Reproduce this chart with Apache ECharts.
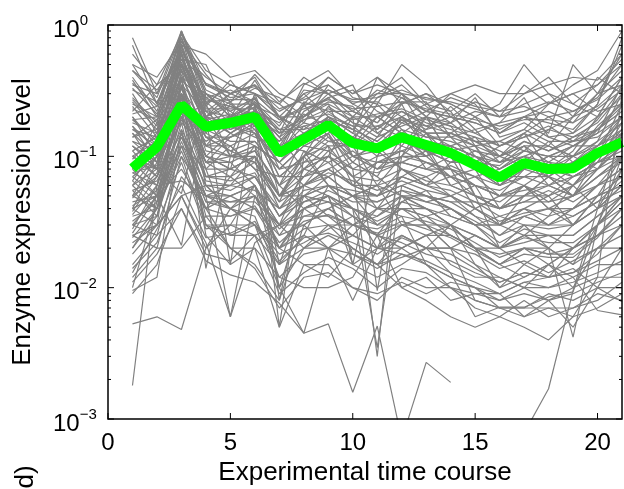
<!DOCTYPE html>
<html>
<head>
<meta charset="utf-8">
<script src="https://cdn.jsdelivr.net/npm/echarts@6/dist/echarts.min.js"></script>
<style>
  html, body { margin: 0; padding: 0; background: #fff; }
  #chart { width: 624px; height: 489px; }
</style>
</head>
<body>
<div id="chart"></div>
<script>
// time points 1..21
var timePoints = [1, 2, 3, 4, 5, 6, 7, 8, 9, 10, 11, 12, 13, 14, 15, 16, 17, 18, 19, 20, 21]

// mean expression (green)
var meanLevel = [0.081, 0.118, 0.246, 0.168, 0.18, 0.2, 0.106, 0.135, 0.173, 0.126, 0.115,
  0.14, 0.122, 0.106, 0.086, 0.069, 0.089, 0.08, 0.081, 0.106, 0.128]

// single enzymes (grey), null = zero level, not drawn on the log axis
var enzymeLevels = [
  [0.8, 0.3, 0.9, 0.35, 0.3, 0.35, 0.2, 0.3, 0.35, 0.25, 0.3, 0.4, 0.25, 0.22, 0.3, 0.2, 0.25, 0.3, 0.25, 0.35, 0.5],
  [0.6, 0.35, 0.85, 0.45, 0.35, 0.3, 0.25, 0.4, 0.3, 0.2, 0.2, 0.25, 0.3, 0.25, 0.2, 0.25, 0.5, 0.3, 0.2, 0.3, 0.6],
  [0.5, 0.25, 0.7, 0.6, 0.4, 0.45, 0.3, 0.25, 0.4, 0.3, 0.4, 0.3, 0.2, 0.3, 0.25, 0.15, 0.2, 0.25, 0.35, 0.45, 0.9],
  [0.4, 0.22, 0.8, 0.3, 0.25, 0.25, 0.15, 0.35, 0.45, 0.28, 0.25, 0.5, 0.35, 0.2, 0.15, 0.18, 0.2, 0.15, 0.5, 0.3, 0.35],
  [0.35, 0.3, 0.6, 0.4, 0.3, 0.4, 0.2, 0.2, 0.3, 0.35, 0.15, 0.2, 0.25, 0.3, 0.35, 0.3, 0.3, 0.4, 0.25, 0.2, 0.4],
  [0.3, 0.15, 0.65, 0.25, 0.35, 0.3, 0.1, 0.25, 0.25, 0.2, 0.3, 0.3, 0.15, 0.15, 0.2, 0.12, 0.15, 0.2, 0.15, 0.25, 0.7],
  [0.25, 0.2, 0.9, 0.3, 0.2, 0.22, 0.18, 0.3, 0.2, 0.15, 0.4, 0.25, 0.3, 0.22, 0.12, 0.1, 0.15, 0.12, 0.2, 0.4, 0.3],
  [0.22, 0.35, 0.5, 0.2, 0.3, 0.35, 0.25, 0.18, 0.35, 0.25, 0.2, 0.15, 0.2, 0.18, 0.22, 0.2, 0.35, 0.25, 0.3, 0.22, 0.25],
  [0.2, 0.12, 0.4, 0.18, 0.2, 0.25, 0.12, 0.15, 0.2, 0.15, 0.12, 0.18, 0.15, 0.12, 0.1, 0.08, 0.1, 0.09, 0.12, 0.15, 0.2],
  [0.15, 0.1, 0.35, 0.22, 0.15, 0.2, 0.08, 0.12, 0.15, 0.2, 0.15, 0.12, 0.1, 0.15, 0.12, 0.06, 0.08, 0.1, 0.08, 0.12, 0.15],
  [0.18, 0.15, 0.3, 0.15, 0.25, 0.18, 0.1, 0.2, 0.25, 0.1, 0.08, 0.12, 0.2, 0.1, 0.08, 0.1, 0.12, 0.07, 0.1, 0.08, 0.12],
  [0.12, 0.08, 0.45, 0.12, 0.12, 0.15, 0.06, 0.1, 0.12, 0.12, 0.2, 0.15, 0.08, 0.08, 0.06, 0.05, 0.06, 0.08, 0.06, 0.1, 0.25],
  [0.1, 0.13, 0.55, 0.2, 0.18, 0.22, 0.14, 0.08, 0.1, 0.08, 0.1, 0.2, 0.12, 0.06, 0.07, 0.08, 0.1, 0.06, 0.05, 0.07, 0.1],
  [0.09, 0.06, 0.25, 0.1, 0.15, 0.12, 0.09, 0.15, 0.18, 0.12, 0.06, 0.1, 0.1, 0.12, 0.05, 0.04, 0.05, 0.05, 0.07, 0.09, 0.18],
  [0.08, 0.18, 0.2, 0.25, 0.1, 0.1, 0.05, 0.06, 0.08, 0.1, 0.12, 0.08, 0.06, 0.09, 0.1, 0.07, 0.06, 0.04, 0.04, 0.06, 0.08],
  [0.07, 0.1, 0.3, 0.08, 0.08, 0.3, 0.2, 0.12, 0.15, 0.06, 0.09, 0.1, 0.15, 0.08, 0.04, 0.05, 0.08, 0.1, 0.12, 0.15, 0.35],
  [0.06, 0.08, 0.6, 0.15, 0.12, 0.08, 0.07, 0.1, 0.06, 0.05, 0.05, 0.06, 0.07, 0.05, 0.06, 0.03, 0.04, 0.05, 0.03, 0.05, 0.06],
  [0.05, 0.07, 0.15, 0.06, 0.06, 0.1, 0.04, 0.05, 0.07, 0.09, 0.07, 0.05, 0.05, 0.04, 0.03, 0.035, 0.03, 0.03, 0.04, 0.05, 0.1],
  [0.045, 0.05, 0.35, 0.1, 0.09, 0.06, 0.03, 0.08, 0.12, 0.07, 0.04, 0.07, 0.09, 0.07, 0.05, 0.02, 0.025, 0.035, 0.06, 0.04, 0.05],
  [0.04, 0.09, 0.18, 0.12, 0.2, 0.15, 0.06, 0.04, 0.05, 0.04, 0.03, 0.04, 0.04, 0.03, 0.04, 0.03, 0.05, 0.07, 0.05, 0.08, 0.15],
  [0.035, 0.04, 0.1, 0.05, 0.05, 0.04, 0.025, 0.03, 0.04, 0.05, 0.06, 0.03, 0.035, 0.025, 0.02, 0.015, 0.02, 0.02, 0.015, 0.03, 0.04],
  [0.03, 0.05, 0.08, 0.04, 0.07, 0.05, 0.02, 0.04, 0.03, 0.03, 0.035, 0.05, 0.03, 0.02, 0.025, 0.02, 0.015, 0.012, 0.02, 0.025, 0.03],
  [0.025, 0.03, 0.05, 0.06, 0.04, 0.03, 0.015, 0.025, 0.06, 0.04, 0.02, 0.025, 0.02, 0.03, 0.015, 0.01, 0.012, 0.015, 0.01, 0.02, 0.02],
  [0.02, 0.035, 0.22, 0.03, 0.03, 0.06, 0.01, 0.02, 0.025, 0.02, 0.015, 0.02, 0.025, 0.015, 0.012, 0.012, 0.01, 0.01, 0.012, 0.015, 0.015],
  [0.015, 0.025, 0.12, 0.08, 0.025, 0.025, 0.03, 0.05, 0.035, 0.025, 0.04, 0.035, 0.015, 0.012, 0.01, 0.008, 0.009, 0.008, 0.01, 0.012, 0.012],
  [0.012, 0.02, 0.02, 0.035, 0.02, 0.015, 0.008, 0.03, 0.02, 0.015, 0.012, 0.015, 0.02, 0.02, 0.008, 0.007, 0.007, 0.009, 0.008, 0.01, 0.01],
  [0.01, 0.045, 0.3, 0.025, 0.015, 0.02, 0.005, 0.015, 0.015, 0.01, 0.008, 0.012, 0.01, 0.01, 0.007, 0.006, 0.008, 0.006, 0.007, 0.009, 0.008],
  [0.009, 0.015, 0.05, 0.02, 0.04, 0.035, 0.012, 0.01, 0.01, 0.012, 0.025, 0.01, 0.012, 0.008, 0.009, 0.009, 0.006, 0.007, 0.006, 0.007, 0.009],
  [0.28, 0.18, 0.75, 0.35, 0.28, 0.3, 0.22, 0.28, 0.4, 0.3, 0.35, 0.3, 0.22, 0.2, 0.18, 0.15, 0.2, 0.22, 0.18, 0.3, 0.45],
  [0.24, 0.14, 0.5, 0.28, 0.22, 0.28, 0.12, 0.22, 0.28, 0.18, 0.16, 0.22, 0.18, 0.16, 0.14, 0.12, 0.14, 0.16, 0.14, 0.18, 0.3],
  [0.19, 0.2, 0.45, 0.22, 0.3, 0.25, 0.16, 0.16, 0.22, 0.22, 0.18, 0.28, 0.2, 0.14, 0.16, 0.1, 0.12, 0.12, 0.1, 0.16, 0.22],
  [0.16, 0.12, 0.7, 0.18, 0.16, 0.2, 0.13, 0.18, 0.16, 0.13, 0.25, 0.16, 0.14, 0.13, 0.11, 0.09, 0.13, 0.11, 0.13, 0.14, 0.2],
  [0.14, 0.16, 0.4, 0.3, 0.22, 0.16, 0.09, 0.13, 0.2, 0.17, 0.12, 0.13, 0.16, 0.18, 0.13, 0.11, 0.09, 0.13, 0.09, 0.11, 0.14],
  [0.13, 0.09, 0.28, 0.14, 0.14, 0.18, 0.11, 0.25, 0.14, 0.09, 0.14, 0.25, 0.11, 0.09, 0.09, 0.12, 0.15, 0.08, 0.11, 0.2, 0.4],
  [0.11, 0.14, 0.5, 0.16, 0.13, 0.13, 0.08, 0.09, 0.13, 0.14, 0.1, 0.11, 0.13, 0.11, 0.12, 0.07, 0.07, 0.09, 0.07, 0.09, 0.11],
  [0.1, 0.07, 0.22, 0.13, 0.17, 0.14, 0.12, 0.11, 0.09, 0.11, 0.08, 0.09, 0.08, 0.1, 0.08, 0.06, 0.09, 0.07, 0.09, 0.13, 0.3],
  [0.085, 0.11, 0.38, 0.11, 0.1, 0.11, 0.06, 0.14, 0.16, 0.09, 0.07, 0.14, 0.1, 0.07, 0.06, 0.055, 0.07, 0.06, 0.08, 0.1, 0.16],
  [0.075, 0.085, 0.26, 0.09, 0.14, 0.16, 0.07, 0.07, 0.11, 0.13, 0.11, 0.08, 0.07, 0.085, 0.07, 0.05, 0.05, 0.07, 0.05, 0.07, 0.09],
  [0.065, 0.12, 0.42, 0.14, 0.11, 0.09, 0.05, 0.09, 0.1, 0.07, 0.09, 0.09, 0.11, 0.06, 0.05, 0.045, 0.06, 0.045, 0.06, 0.08, 0.12],
  [0.055, 0.065, 0.16, 0.07, 0.07, 0.12, 0.09, 0.06, 0.08, 0.06, 0.06, 0.07, 0.06, 0.07, 0.08, 0.04, 0.045, 0.055, 0.045, 0.06, 0.07],
  [0.05, 0.1, 0.24, 0.08, 0.12, 0.08, 0.045, 0.11, 0.06, 0.055, 0.05, 0.06, 0.05, 0.045, 0.045, 0.04, 0.06, 0.04, 0.05, 0.1, 0.2],
  [0.042, 0.055, 0.14, 0.06, 0.055, 0.07, 0.035, 0.045, 0.055, 0.045, 0.045, 0.055, 0.045, 0.05, 0.035, 0.025, 0.035, 0.03, 0.035, 0.045, 0.055],
  [0.038, 0.07, 0.3, 0.07, 0.08, 0.1, 0.05, 0.05, 0.045, 0.035, 0.025, 0.045, 0.055, 0.035, 0.03, 0.03, 0.025, 0.025, 0.025, 0.035, 0.05],
  [0.032, 0.045, 0.12, 0.045, 0.045, 0.045, 0.03, 0.035, 0.035, 0.03, 0.04, 0.04, 0.035, 0.04, 0.03, 0.02, 0.022, 0.025, 0.02, 0.03, 0.045],
  [0.028, 0.06, 0.065, 0.05, 0.06, 0.055, 0.04, 0.06, 0.07, 0.05, 0.03, 0.03, 0.025, 0.025, 0.02, 0.018, 0.02, 0.018, 0.018, 0.025, 0.035],
  [0.024, 0.04, 0.18, 0.035, 0.035, 0.04, 0.02, 0.028, 0.03, 0.025, 0.02, 0.03, 0.03, 0.02, 0.018, 0.014, 0.016, 0.013, 0.016, 0.02, 0.025],
  [0.018, 0.03, 0.09, 0.028, 0.03, 0.03, 0.018, 0.022, 0.028, 0.035, 0.025, 0.022, 0.018, 0.016, 0.013, 0.011, 0.013, 0.012, 0.013, 0.016, 0.02],
  [0.014, 0.022, 0.07, 0.04, 0.02, 0.02, 0.012, 0.018, 0.02, 0.018, 0.014, 0.018, 0.016, 0.013, 0.011, 0.009, 0.011, 0.01, 0.011, 0.013, 0.016],
  [0.011, 0.018, 0.04, 0.018, 0.016, 0.025, 0.009, 0.013, 0.017, 0.014, 0.01, 0.014, 0.013, 0.01, 0.009, 0.008, 0.01, 0.008, 0.009, 0.011, 0.013],
  [0.0095, 0.012, 0.16, 0.03, 0.02, 0.014, 0.007, 0.012, 0.013, 0.01, 0.009, 0.011, 0.009, 0.011, 0.01, 0.007, 0.007, 0.007, 0.007, 0.008, 0.011],
  [0.7, 0.25, 0.8, 0.28, 0.32, 0.26, 0.17, 0.32, 0.3, 0.22, 0.18, 0.3, 0.28, 0.25, 0.2, 0.16, 0.2, 0.18, 0.16, 0.25, 0.8],
  [0.45, 0.28, 0.85, 0.32, 0.26, 0.33, 0.28, 0.2, 0.28, 0.32, 0.22, 0.18, 0.22, 0.28, 0.24, 0.22, 0.24, 0.2, 0.22, 0.28, 0.5],
  [0.38, 0.2, 0.65, 0.24, 0.38, 0.22, 0.14, 0.26, 0.22, 0.16, 0.28, 0.35, 0.24, 0.18, 0.28, 0.14, 0.16, 0.25, 0.3, 0.35, 0.55],
  [0.32, 0.26, 0.55, 0.5, 0.2, 0.38, 0.19, 0.24, 0.32, 0.26, 0.26, 0.2, 0.16, 0.24, 0.16, 0.18, 0.28, 0.14, 0.12, 0.16, 0.26],
  [0.27, 0.17, 0.6, 0.2, 0.24, 0.2, 0.15, 0.2, 0.26, 0.24, 0.16, 0.26, 0.26, 0.14, 0.12, 0.13, 0.11, 0.16, 0.2, 0.24, 0.35],
  [0.21, 0.24, 0.38, 0.26, 0.18, 0.24, 0.2, 0.16, 0.18, 0.14, 0.2, 0.22, 0.17, 0.2, 0.18, 0.15, 0.18, 0.14, 0.15, 0.2, 0.28],
  [0.17, 0.11, 0.8, 0.2, 0.26, 0.17, 0.1, 0.14, 0.24, 0.18, 0.14, 0.17, 0.2, 0.17, 0.1, 0.08, 0.11, 0.1, 0.12, 0.12, 0.18],
  [0.14, 0.19, 0.33, 0.17, 0.19, 0.26, 0.15, 0.17, 0.13, 0.12, 0.17, 0.14, 0.12, 0.12, 0.14, 0.09, 0.1, 0.12, 0.1, 0.17, 0.25],
  [0.12, 0.09, 0.9, 0.24, 0.16, 0.19, 0.1, 0.13, 0.19, 0.16, 0.13, 0.19, 0.14, 0.14, 0.09, 0.085, 0.12, 0.09, 0.085, 0.11, 0.13],
  [0.095, 0.15, 0.48, 0.19, 0.21, 0.17, 0.13, 0.21, 0.17, 0.1, 0.11, 0.16, 0.11, 0.09, 0.11, 0.1, 0.085, 0.08, 0.07, 0.09, 0.1],
  [0.06, 0.1, 0.5, 0.2, 0.015, 0.25, 0.05, 0.1, 0.2, 0.1, 0.08, 0.1, 0.09, 0.08, 0.06, 0.05, 0.06, 0.05, 0.06, 0.1, 0.15],
  [0.15, 0.08, 0.4, 0.014, 0.1, 0.3, 0.2, 0.15, 0.12, 0.015, 0.1, 0.2, 0.15, 0.1, 0.08, 0.06, 0.08, 0.07, 0.05, 0.08, 0.12],
  [0.2, 0.1, 0.6, 0.2, 0.15, 0.2, 0.005, 0.1, 0.15, 0.08, 0.003, 0.15, 0.1, 0.12, 0.1, 0.08, 0.1, 0.08, 0.1, 0.12, 0.2],
  [0.12, 0.08, 0.052, 0.3, 0.2, 0.25, 0.008, 0.06, 0.1, 0.2, 0.0095, 0.1, 0.2, 0.1, 0.05, 0.04, 0.05, 0.06, 0.07, 0.08, 0.1],
  [0.08, 0.05, 0.021, 0.2, 0.1, 0.12, 0.015, 0.05, 0.06, 0.04, 0.0035, 0.06, 0.05, 0.04, 0.03, 0.03, 0.04, 0.03, 0.04, 0.06, 0.1],
  [0.05, 0.04, 0.3, 0.1, 0.08, 0.1, 0.01, 0.04, 0.05, 0.015, 0.02, 0.05, 0.04, 0.03, 0.02, 0.01, 0.015, 0.02, 0.015, 0.02, 0.03],
  [0.03, 0.035, 0.15, 0.05, 0.006, 0.05, 0.03, 0.02, 0.02, 0.008, 0.02, 0.02, 0.015, 0.01, 0.008, 0.007, 0.006, 0.008, 0.005, 0.01, 0.02],
  [0.022, 0.03, 0.4, 0.06, 0.04, 0.06, 0.02, 0.015, 0.012, 0.02, 0.015, 0.01, 0.008, 0.006, 0.005, 0.006, 0.005, 0.004, 0.006, 0.012, 0.3],
  [0.0053, 0.006, 0.0048, 0.02, 0.03, 0.025, 0.015, 0.02, 0.03, 0.02, 0.015, 0.025, 0.02, 0.02, 0.015, 0.012, 0.01, 0.015, 0.02, 0.03, 0.05],
  [0.0018, 0.06, 0.2, 0.1, 0.08, 0.1, 0.05, 0.07, 0.09, 0.06, 0.05, 0.08, 0.06, 0.05, 0.04, 0.03, 0.035, 0.04, 0.03, 0.05, 0.06],
  [0.04, 0.03, 0.05, 0.022, 0.006, 0.022, 0.03, 0.04, 0.05, 0.035, 0.03, 0.04, 0.03, 0.03, 0.02, 0.02, 0.025, 0.02, 0.03, 0.04, 0.08],
  [0.03, 0.025, 0.04, 0.016, 0.0125, 0.011, 0.0076, 0.0045, 0.0053, 0.0016, 0.0051, 0.0007, 0.0027, 0.0019, null, null, 0.00078, 0.0017, 0.0095, 0.04, 0.15],
  [0.1, 0.08, 0.3, 0.12, 0.1, 0.12, 0.05, 0.06, 0.05, 0.018, 0.015, 0.017, 0.02, 0.0129, 0.006, 0.0071, 0.0071, 0.0085, 0.0093, 0.03, 0.1],
  [0.07, 0.05, 0.25, 0.09, 0.1, 0.09, 0.05, 0.08, 0.07, 0.05, 0.06, 0.05, 0.04, 0.03, 0.025, 0.02, 0.03, 0.02, 0.0042, 0.03, 0.08],
  [0.04, 0.05, 0.12, 0.04, 0.05, 0.06, 0.03, 0.03, 0.04, 0.03, 0.025, 0.03, 0.03, 0.025, 0.02, 0.015, 0.012, 0.015, 0.012, 0.0067, 0.0062],
  [0.025, 0.02, 0.1, 0.03, 0.025, 0.03, 0.02, 0.025, 0.02, 0.025, 0.02, 0.018, 0.015, 0.012, 0.01, 0.009, 0.011, 0.012, 0.014, 0.01, 0.0078],
  [0.06, 0.04, 0.15, 0.05, 0.04, 0.03, 0.01, 0.0045, 0.02, 0.03, 0.025, 0.02, 0.025, 0.03, 0.02, 0.015, 0.02, 0.015, 0.02, 0.025, 0.04],
  [0.33, 0.21, 0.55, 0.27, 0.24, 0.21, 0.16, 0.19, 0.23, 0.19, 0.21, 0.23, 0.19, 0.17, 0.15, 0.12, 0.14, 0.17, 0.13, 0.19, 0.33],
  [0.26, 0.16, 0.72, 0.22, 0.2, 0.28, 0.11, 0.17, 0.19, 0.16, 0.13, 0.19, 0.17, 0.15, 0.13, 0.1, 0.13, 0.11, 0.14, 0.16, 0.24],
  [0.19, 0.13, 0.62, 0.16, 0.17, 0.15, 0.09, 0.14, 0.17, 0.12, 0.11, 0.13, 0.11, 0.1, 0.09, 0.07, 0.09, 0.08, 0.09, 0.12, 0.16],
  [0.17, 0.09, 0.34, 0.12, 0.14, 0.17, 0.07, 0.1, 0.14, 0.1, 0.09, 0.11, 0.09, 0.08, 0.07, 0.06, 0.07, 0.07, 0.06, 0.09, 0.12],
  [0.13, 0.11, 0.27, 0.14, 0.11, 0.13, 0.08, 0.12, 0.11, 0.08, 0.075, 0.09, 0.08, 0.07, 0.06, 0.05, 0.055, 0.06, 0.05, 0.07, 0.1],
  [0.11, 0.07, 0.19, 0.09, 0.09, 0.11, 0.06, 0.08, 0.1, 0.07, 0.065, 0.08, 0.065, 0.06, 0.05, 0.04, 0.045, 0.045, 0.05, 0.06, 0.08],
  [0.09, 0.08, 0.33, 0.1, 0.08, 0.07, 0.04, 0.07, 0.08, 0.06, 0.05, 0.07, 0.06, 0.055, 0.045, 0.035, 0.04, 0.035, 0.04, 0.05, 0.07],
  [0.075, 0.06, 0.24, 0.07, 0.065, 0.075, 0.035, 0.055, 0.06, 0.05, 0.045, 0.055, 0.05, 0.045, 0.035, 0.03, 0.035, 0.03, 0.03, 0.04, 0.06],
  [0.065, 0.045, 0.2, 0.055, 0.05, 0.06, 0.025, 0.045, 0.05, 0.04, 0.035, 0.045, 0.04, 0.035, 0.03, 0.022, 0.028, 0.025, 0.025, 0.035, 0.05],
  [0.055, 0.035, 0.13, 0.045, 0.04, 0.05, 0.02, 0.035, 0.04, 0.03, 0.028, 0.035, 0.032, 0.028, 0.022, 0.017, 0.02, 0.018, 0.02, 0.03, 0.045],
  [0.45, 0.32, 0.58, 0.36, 0.3, 0.34, 0.23, 0.27, 0.32, 0.27, 0.28, 0.32, 0.27, 0.26, 0.23, 0.2, 0.22, 0.26, 0.22, 0.27, 0.4],
  [0.36, 0.24, 0.68, 0.26, 0.27, 0.27, 0.19, 0.23, 0.27, 0.23, 0.24, 0.26, 0.23, 0.21, 0.19, 0.17, 0.19, 0.19, 0.18, 0.23, 0.32],
  [0.23, 0.19, 0.52, 0.23, 0.23, 0.23, 0.14, 0.19, 0.21, 0.17, 0.17, 0.2, 0.15, 0.15, 0.13, 0.13, 0.16, 0.13, 0.13, 0.16, 0.22],
  [0.16, 0.14, 0.46, 0.19, 0.15, 0.19, 0.11, 0.15, 0.16, 0.14, 0.12, 0.15, 0.13, 0.12, 0.1, 0.09, 0.11, 0.1, 0.1, 0.13, 0.18],
  [0.048, 0.075, 0.28, 0.09, 0.07, 0.09, 0.045, 0.06, 0.075, 0.065, 0.055, 0.065, 0.055, 0.05, 0.04, 0.032, 0.037, 0.04, 0.035, 0.045, 0.065],
  [0.036, 0.06, 0.22, 0.065, 0.06, 0.07, 0.035, 0.05, 0.06, 0.05, 0.04, 0.05, 0.045, 0.04, 0.032, 0.025, 0.03, 0.028, 0.03, 0.04, 0.06],
  [0.026, 0.05, 0.14, 0.05, 0.045, 0.05, 0.028, 0.04, 0.045, 0.04, 0.032, 0.04, 0.035, 0.03, 0.025, 0.02, 0.024, 0.022, 0.022, 0.03, 0.05],
  [0.02, 0.04, 0.11, 0.04, 0.035, 0.042, 0.022, 0.032, 0.036, 0.03, 0.026, 0.032, 0.028, 0.024, 0.019, 0.015, 0.018, 0.017, 0.017, 0.024, 0.04],
  [0.5, 0.4, 0.75, 0.42, 0.26, 0.42, 0.26, 0.36, 0.3, 0.22, 0.32, 0.28, 0.22, 0.2, 0.26, 0.22, 0.3, 0.35, 0.4, 0.38, 0.6],
  [0.013, 0.028, 0.06, 0.024, 0.026, 0.032, 0.016, 0.024, 0.026, 0.022, 0.018, 0.024, 0.02, 0.018, 0.014, 0.011, 0.013, 0.012, 0.013, 0.018, 0.03]
]

var xTicks = [0, 5, 10, 15, 20]
var xRange = [0, 21]
var yRange = [0.001, 1]
var yMajorTicks = [0.001, 0.01, 0.1, 1]
var yMinorTicks = [
  0.002, 0.003, 0.004, 0.005, 0.006, 0.007, 0.008, 0.009,
  0.02, 0.03, 0.04, 0.05, 0.06, 0.07, 0.08, 0.09,
  0.2, 0.3, 0.4, 0.5, 0.6, 0.7, 0.8, 0.9
]

var font = 'Liberation Sans, Arial, Helvetica, sans-serif'

function toPoints(values) {
  return values.map(function(v, i) {
    return [timePoints[i], v == null ? '-' : v]
  })
}

function tickLine(x1, y1, x2, y2, w) {
  return {
    type: 'line',
    shape: { x1: x1, y1: y1, x2: x2, y2: y2 },
    style: { stroke: '#000', lineWidth: w }
  }
}

// box with inward ticks, placed through the axes' scales
function renderFrame(params, api) {
  var tl = api.coord([xRange[0], yRange[1]])
  var br = api.coord([xRange[1], yRange[0]])
  var kids = [{
    type: 'rect',
    shape: { x: tl[0], y: tl[1], width: br[0] - tl[0], height: br[1] - tl[1] },
    style: { fill: 'none', stroke: '#000', lineWidth: 1.5 }
  }]
  xTicks.forEach(function(t) {
    var x = api.coord([t, yRange[0]])[0]
    kids.push(tickLine(x, br[1], x, br[1] - 6, 1))
    kids.push(tickLine(x, tl[1], x, tl[1] + 6, 1))
  })
  yMajorTicks.forEach(function(v) {
    var y = api.coord([xRange[0], v])[1]
    kids.push(tickLine(tl[0], y, tl[0] + 6, y, 1))
    kids.push(tickLine(br[0], y, br[0] - 6, y, 1))
  })
  yMinorTicks.forEach(function(v) {
    var y = api.coord([xRange[0], v])[1]
    kids.push(tickLine(tl[0], y, tl[0] + 3, y, 1))
    kids.push(tickLine(br[0], y, br[0] - 3, y, 1))
  })
  return { type: 'group', children: kids }
}

var series = enzymeLevels.map(function(values) {
  return {
    type: 'line',
    data: toPoints(values),
    symbol: 'none',
    silent: true,
    clip: true,
    lineStyle: { color: '#808080', width: 1.2 },
    z: 2
  }
})
series.push({
  type: 'line',
  data: toPoints(meanLevel),
  symbol: 'none',
  silent: true,
  clip: true,
  lineStyle: { color: '#00ff00', width: 10 },
  z: 3
})
series.push({
  type: 'custom',
  data: [[1, 0.1]],
  silent: true,
  clip: false,
  renderItem: renderFrame,
  z: 4
})

var chart = echarts.init(document.getElementById('chart'))
chart.setOption({
  animation: false,
  grid: { left: 108, top: 25, right: 2, bottom: 70, containLabel: false, outerBoundsMode: 'none' },
  xAxis: {
    type: 'value',
    min: xRange[0],
    max: xRange[1],
    name: 'Experimental time course',
    nameLocation: 'middle',
    nameGap: 38,
    nameTextStyle: { fontFamily: font, fontSize: 26, color: '#000' },
    axisLine: { show: false },
    axisTick: { show: false },
    splitLine: { show: false },
    axisLabel: { customValues: xTicks, margin: 12, fontFamily: font, fontSize: 24, color: '#000' }
  },
  yAxis: {
    type: 'log',
    logBase: 10,
    min: yRange[0],
    max: yRange[1],
    name: 'Enzyme expression level',
    nameLocation: 'middle',
    nameGap: 72,
    nameTextStyle: { fontFamily: font, fontSize: 26, color: '#000' },
    axisLine: { show: false },
    axisTick: { show: false },
    splitLine: { show: false },
    axisLabel: {
      customValues: yMajorTicks,
      align: 'left',
      margin: 55,
      padding: [10, 0, 0, 0],
      formatter: function(v) {
        var e = Math.round(Math.log10(v))
        return '{b|10}{s|' + (e < 0 ? '\u2212' + (-e) : e) + '}'
      },
      rich: {
        b: { fontFamily: font, fontSize: 24, color: '#000' },
        s: { fontFamily: font, fontSize: 15, color: '#000', padding: [0, 0, 18, 0] }
      }
    }
  },
  graphic: [{
    type: 'text',
    x: 26,
    y: 477,
    rotation: Math.PI / 2,
    style: { text: 'd)', font: '26px ' + font, fill: '#000', align: 'center', verticalAlign: 'middle' }
  }],
  series: series
})
</script>
</body>
</html>
